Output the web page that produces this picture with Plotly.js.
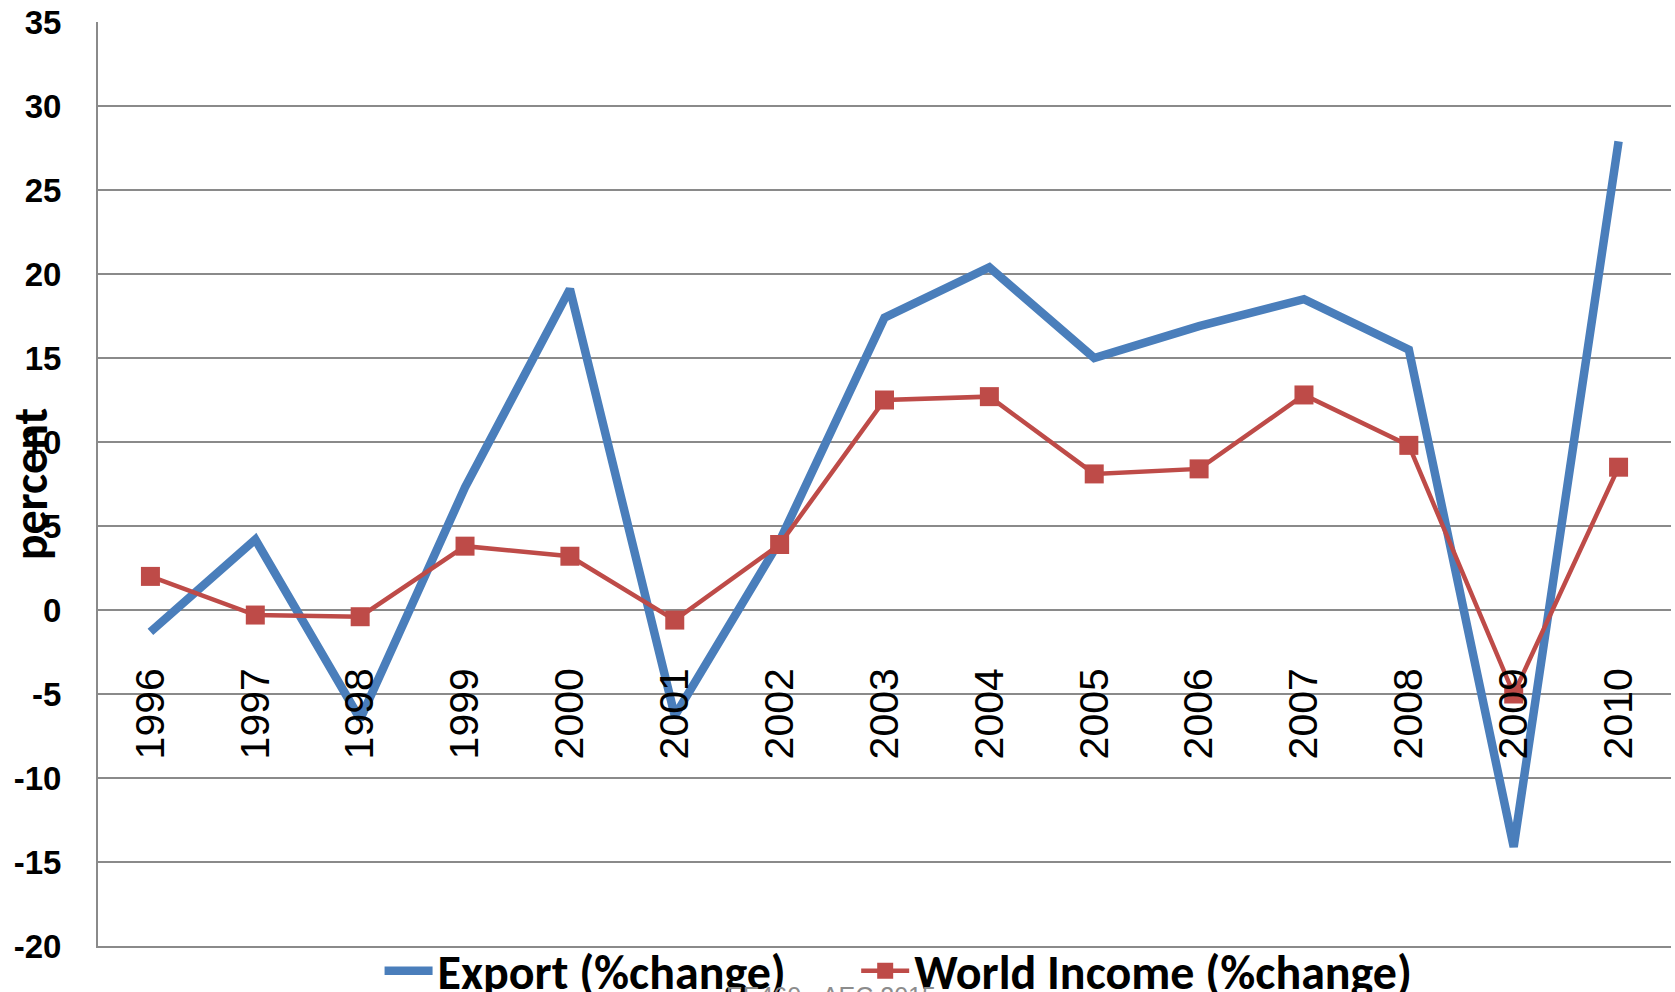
<!DOCTYPE html>
<html>
<head>
<meta charset="utf-8">
<script src="https://cdn.plot.ly/plotly-3.0.1.min.js"></script>
<style>html,body{margin:0;padding:0;background:#fff;}#chart{width:1675px;height:992px;}</style>
</head>
<body>
<div id="chart"></div>
<script>
const years = ['1996','1997','1998','1999','2000','2001','2002','2003','2004','2005','2006','2007','2008','2009','2010'];
const exportChange = [-1.3, 4.2, -6.5, 7.3, 19.1, -6.3, 4.1, 17.4, 20.4, 15.0, 16.9, 18.5, 15.5, -14.1, 27.9];
const worldIncome = [2.0, -0.3, -0.4, 3.8, 3.2, -0.6, 3.9, 12.5, 12.7, 8.1, 8.4, 12.8, 9.8, -5.0, 8.5];
const seriesNames = ['Export (%change)', 'World Income (%change)'];
const yTickVals = [-20, -15, -10, -5, 0, 5, 10, 15, 20, 25, 30, 35];
const yTickText = ['-20', '-15', '-10', '-5', '0', '5', '10', '15', '20', '25', '30', '35'];
const yTitle = 'percent';
const footer = 'EE460 - AEC 2015';

const traces = [
  {
    x: years, y: exportChange, name: seriesNames[0], type: 'scatter', mode: 'lines',
    xaxis: 'x', yaxis: 'y', legend: 'legend',
    line: {color: '#4A7EBB', width: 8.5}
  },
  {
    x: years, y: worldIncome, name: seriesNames[1], type: 'scatter', mode: 'lines+markers',
    xaxis: 'x2', yaxis: 'y', legend: 'legend2',
    line: {color: '#BE4B48', width: 4.5},
    marker: {symbol: 'square', size: 19, color: '#BE4B48'}
  }
];

const gridGray = '#8a8a8a';
const legendFont = {family: 'Carlito, Lato, "Liberation Sans Narrow", sans-serif', size: 48, color: '#000', weight: 'bold'};

const layout = {
  width: 1675, height: 992,
  margin: {l: 98, r: 4, t: 22, b: 46, autoexpand: false},
  paper_bgcolor: '#ffffff', plot_bgcolor: '#ffffff',
  showlegend: true,
  legend: {
    orientation: 'h', x: 0.179, xanchor: 'left', y: -0.027, yanchor: 'middle',
    font: legendFont, bgcolor: 'rgba(0,0,0,0)', itemwidth: 48
  },
  legend2: {
    orientation: 'h', x: 0.482, xanchor: 'left', y: -0.027, yanchor: 'middle',
    font: legendFont, bgcolor: 'rgba(0,0,0,0)', itemwidth: 48
  },
  xaxis: {
    type: 'category', range: [-0.5, 14.5],
    showgrid: false, zeroline: false, showline: true, linecolor: gridGray, linewidth: 1.6,
    ticks: '', showticklabels: false
  },
  xaxis2: {
    type: 'category', range: [-0.5, 14.5], overlaying: 'x',
    anchor: 'free', position: 20/55,
    showgrid: false, zeroline: false, showline: false, ticks: '',
    tickangle: -90, ticklabelstandoff: 49,
    tickfont: {family: '"Liberation Sans", Arial, sans-serif', size: 41, color: '#000'}
  },
  yaxis: {
    range: [-20, 35], tickmode: 'array', tickvals: yTickVals, ticktext: yTickText,
    showgrid: true, gridcolor: gridGray, gridwidth: 1.6,
    zeroline: false, showline: true, linecolor: gridGray, linewidth: 2,
    ticks: '', ticklabelstandoff: 28,
    tickfont: {family: '"Liberation Sans", Arial, sans-serif', size: 33, color: '#000', weight: 'bold'}
  },
  annotations: [
    {
      text: yTitle, xref: 'paper', yref: 'paper', x: -0.043, y: 0.5, xanchor: 'center', yanchor: 'middle',
      textangle: -90, showarrow: false, font: legendFont
    },
    {
      text: footer, xref: 'paper', yref: 'paper', x: 0.466, y: -0.037, xanchor: 'center', yanchor: 'top',
      showarrow: false,
      font: {family: '"Liberation Sans", Arial, sans-serif', size: 25, color: '#8c8c8c'}
    }
  ]
};

Plotly.newPlot('chart', traces, layout, {displayModeBar: false, staticPlot: true});
</script>
</body>
</html>
